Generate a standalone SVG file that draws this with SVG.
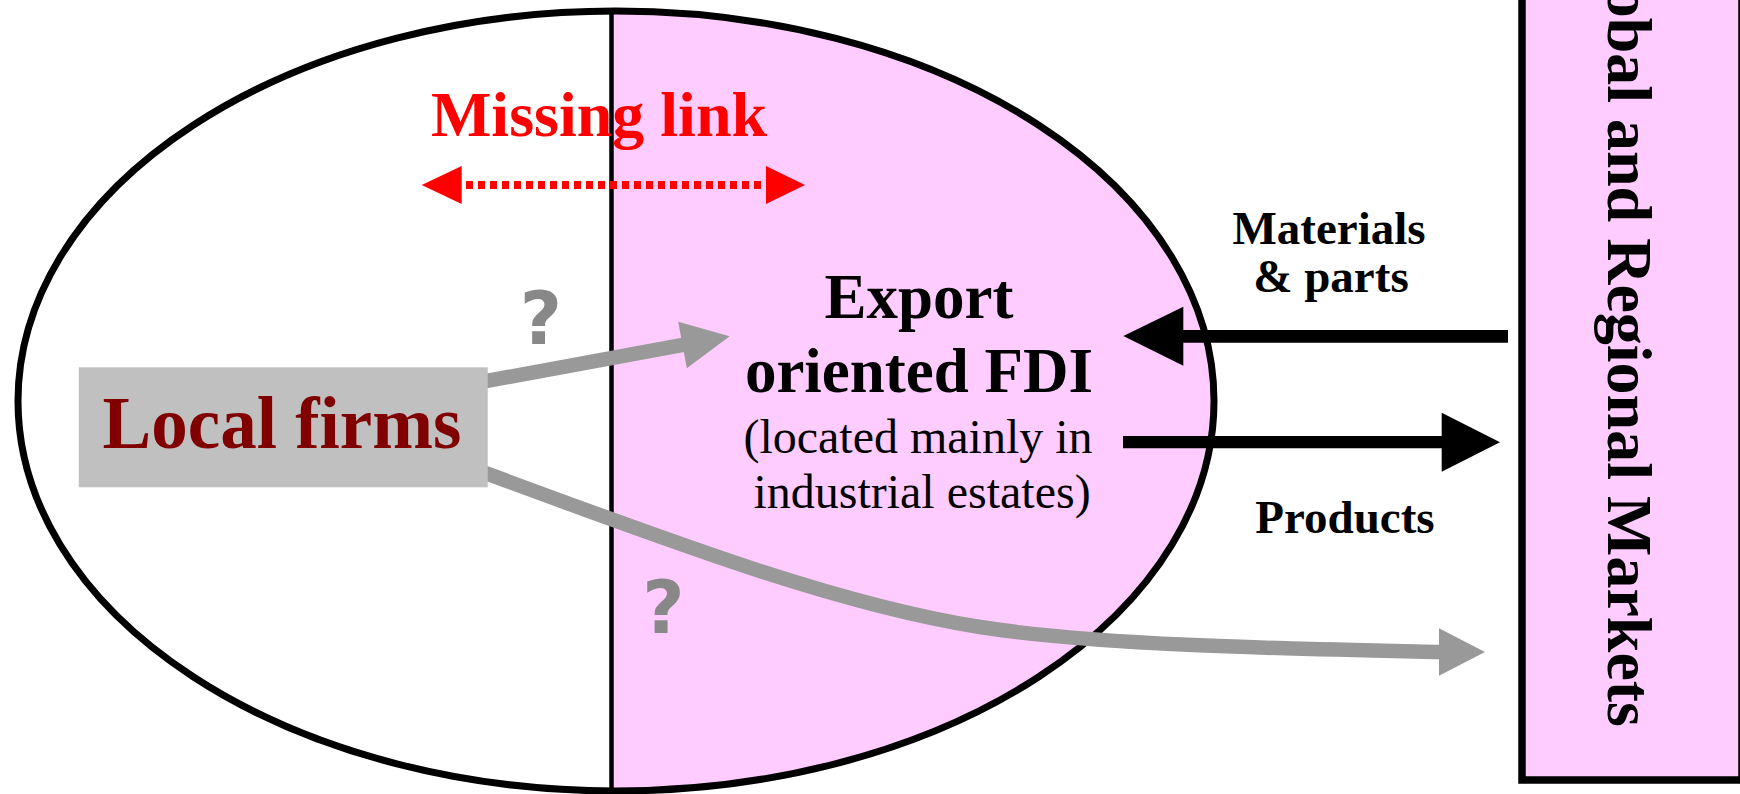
<svg xmlns="http://www.w3.org/2000/svg" width="1740" height="794" viewBox="0 0 1740 794">
<style>
.serif{font-family:"Liberation Serif","Times New Roman",serif}
.b{font-weight:bold}
.q{font-family:"DejaVu Sans",sans-serif;font-weight:bold;fill:#888888;font-size:73px;text-anchor:middle}
.grey{fill:none;stroke:#999999;stroke-width:14.5}
.black{stroke:#000;fill:none}
</style>
<defs>
<clipPath id="ec"><ellipse cx="616" cy="401" rx="598" ry="390"/></clipPath>
</defs>
<rect width="1740" height="794" fill="#fff"/>
<g id="ellipse-node">
<ellipse cx="616" cy="401" rx="598" ry="390" fill="#fff"/>
<rect x="611.5" y="0" width="700" height="800" fill="#FFCCFF" clip-path="url(#ec)"/>
<line x1="611.5" y1="11" x2="611.5" y2="791" stroke="#000" stroke-width="4.5"/>
<ellipse cx="616" cy="401" rx="598" ry="390" fill="none" stroke="#000" stroke-width="7"/>
</g>
<g id="markets">
<rect x="1522" y="-10" width="220" height="790" fill="#FFCCFF" stroke="#000" stroke-width="7.5"/>
<text class="serif b" font-size="64" text-anchor="end" transform="translate(1608,727) rotate(90)">Global and Regional Markets</text>
</g>
<g id="connectors">
<line x1="466" y1="185" x2="766" y2="185" stroke="#f00" stroke-width="8" stroke-dasharray="7 5"/>
<polygon points="421.7,185 461.7,166 461.7,204" fill="#f00"/>
<polygon points="805,185 766,166 766,204" fill="#f00"/>
<line x1="1508" y1="336.3" x2="1180" y2="336.3" class="black" stroke-width="12.7"/>
<polygon points="1123.3,336 1183.3,306.7 1183.3,365.7" fill="#000"/>
<line x1="1123" y1="442.2" x2="1444" y2="442.2" class="black" stroke-width="12.3"/>
<polygon points="1500,442.3 1441.7,412.7 1441.7,471.7" fill="#000"/>
<line x1="480" y1="382.2" x2="683" y2="344.9" class="grey"/>
<polygon points="729.7,336.3 686.8,368.3 678.2,321.7" fill="#999999"/>
<path d="M480,471 C680,545 840,605 980,627 C1100,645.9 1300,649 1441,652" class="grey" stroke-width="14"/>
<polygon points="1485,652 1439,628.3 1439,675.7" fill="#999999"/>
</g>
<g id="local-firms">
<rect x="78.75" y="367.3" width="409" height="120" fill="#C0C0C0"/>
<text class="serif b" x="282" y="448" font-size="73" fill="#800000" text-anchor="middle">Local firms</text>
</g>
<g id="labels">
<text class="serif b" x="599" y="136" font-size="64" fill="#f00" text-anchor="middle">Missing link</text>
<text class="q" x="541" y="344">?</text>
<text class="q" x="663.5" y="633">?</text>
</g>
<g id="fdi">
<text class="serif b" x="919" y="318" font-size="63" text-anchor="middle">Export</text>
<text class="serif b" x="919" y="392" font-size="63" text-anchor="middle">oriented FDI</text>
<text class="serif" x="918" y="453" font-size="48" text-anchor="middle">(located mainly in</text>
<text class="serif" x="922" y="508" font-size="48" text-anchor="middle">industrial estates)</text>
</g>
<g id="flow-labels">
<text class="serif b" x="1329" y="244" font-size="47" text-anchor="middle">Materials</text>
<text class="serif b" x="1331" y="292" font-size="47" text-anchor="middle">&amp; parts</text>
<text class="serif b" x="1345" y="533" font-size="47" text-anchor="middle">Products</text>
</g>
</svg>
